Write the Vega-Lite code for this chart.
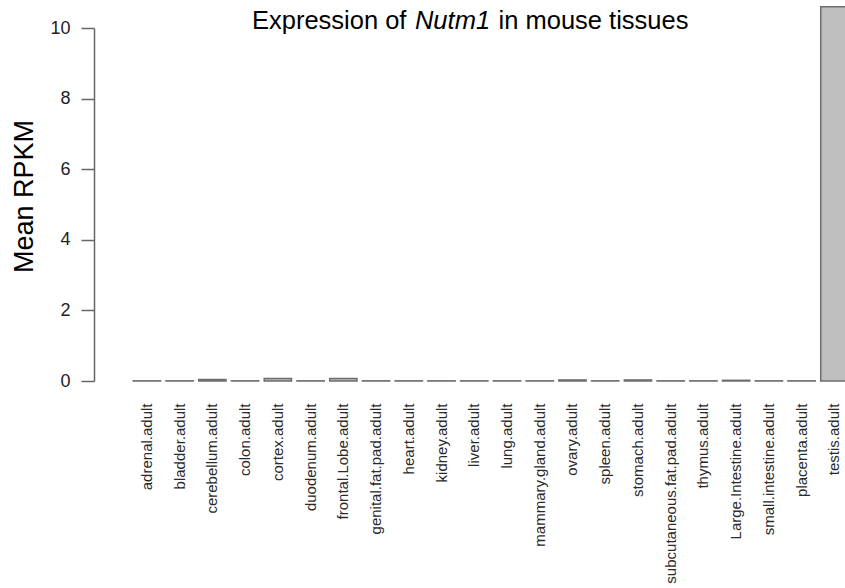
{
  "$schema": "https://vega.github.io/schema/vega-lite/v6.json",
  "autosize": {"type": "none"},
  "padding": {"left": 94, "top": 28, "right": 0, "bottom": 207},
  "width": 751,
  "height": 353,
  "background": "white",
  "title": {
    "text": "\u200b\u00a0\u00a0\u00a0\u00a0\u00a0Expression of\u00a0\u00a0\u00a0\u00a0\u00a0\u00a0\u00a0\u00a0\u00a0\u00a0\u00a0\u00a0\u00a0in mouse tissues",
    "subtitle": "Nutm1",
    "font": "Liberation Sans",
    "fontSize": 25.5,
    "fontWeight": "normal",
    "color": "#000000",
    "subtitleFont": "Liberation Sans",
    "subtitleFontSize": 25.5,
    "subtitleFontStyle": "italic",
    "subtitleColor": "#000000",
    "subtitlePadding": -25.5,
    "frame": "group",
    "anchor": "middle",
    "orient": "top",
    "offset": -28,
    "dx": -17
  },
  "data": {
    "values": [
      {"tissue": "adrenal.adult", "rpkm": 0.005},
      {"tissue": "bladder.adult", "rpkm": 0.005},
      {"tissue": "cerebellum.adult", "rpkm": 0.04},
      {"tissue": "colon.adult", "rpkm": 0.005},
      {"tissue": "cortex.adult", "rpkm": 0.07},
      {"tissue": "duodenum.adult", "rpkm": 0.005},
      {"tissue": "frontal.Lobe.adult", "rpkm": 0.07},
      {"tissue": "genital.fat.pad.adult", "rpkm": 0.005},
      {"tissue": "heart.adult", "rpkm": 0.005},
      {"tissue": "kidney.adult", "rpkm": 0.005},
      {"tissue": "liver.adult", "rpkm": 0.005},
      {"tissue": "lung.adult", "rpkm": 0.005},
      {"tissue": "mammary.gland.adult", "rpkm": 0.005},
      {"tissue": "ovary.adult", "rpkm": 0.03},
      {"tissue": "spleen.adult", "rpkm": 0.005},
      {"tissue": "stomach.adult", "rpkm": 0.03},
      {"tissue": "subcutaneous.fat.pad.adult", "rpkm": 0.005},
      {"tissue": "thymus.adult", "rpkm": 0.005},
      {"tissue": "Large.Intestine.adult", "rpkm": 0.02},
      {"tissue": "small.intestine.adult", "rpkm": 0.005},
      {"tissue": "placenta.adult", "rpkm": 0.005},
      {"tissue": "testis.adult", "rpkm": 10.6}
    ]
  },
  "mark": {"type": "bar", "fill": "#BEBEBE", "stroke": "#6e6e6e", "strokeWidth": 1.5, "clip": false},
  "encoding": {
    "x": {
      "field": "tissue",
      "type": "nominal",
      "sort": null,
      "scale": {"type": "band", "range": [0, 754], "paddingInner": 0.1667, "paddingOuter": 0.6, "align": 1},
      "axis": {
        "title": null,
        "domain": false,
        "ticks": false,
        "tickSize": 0,
        "labelPadding": 22,
        "labelAngle": 270,
        "labelAlign": "right",
        "labelBaseline": "middle",
        "labelFont": "Liberation Sans",
        "labelFontSize": 15,
        "labelColor": "#2a2a2a",
        "labelLimit": 400,
        "labelOverlap": false
      }
    },
    "y": {
      "field": "rpkm",
      "type": "quantitative",
      "scale": {"domain": [0, 10], "nice": false, "zero": true},
      "axis": {
        "values": [0, 2, 4, 6, 8, 10],
        "grid": false,
        "domainColor": "#666666",
        "domainWidth": 1.5,
        "tickColor": "#666666",
        "tickWidth": 1.5,
        "tickSize": 13,
        "labelPadding": 11,
        "labelFont": "Liberation Sans",
        "labelFontSize": 18,
        "labelColor": "#222222",
        "title": "Mean RPKM",
        "titleFont": "Liberation Sans",
        "titleFontSize": 27,
        "titleFontWeight": "normal",
        "titleColor": "#000000",
        "titleAngle": 270,
        "titleAlign": "center",
        "titleBaseline": "alphabetic",
        "titleX": -62,
        "titleY": 168
      }
    }
  },
  "config": {"view": {"stroke": null}}
}
